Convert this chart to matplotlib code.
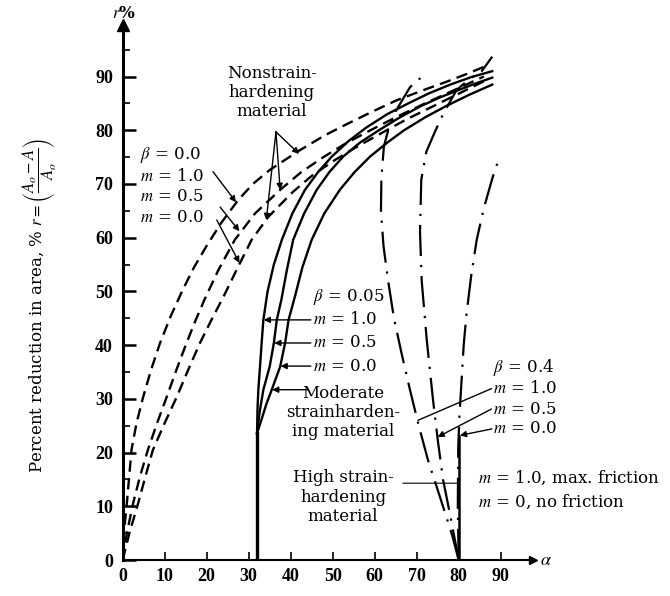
import matplotlib.pyplot as plt

plt.rcParams['font.family'] = 'DejaVu Serif'
plt.rcParams['mathtext.fontset'] = 'stix'

# beta = 0.0, nonstrainhardening material (dashed)
b00_m10_alpha = [0, 0.3, 1.0, 2.1, 3.3, 4.9, 6.8, 8.9, 11.5, 14.3, 17, 20, 23.5, 27.5, 31, 35, 42, 48,
                 53, 59, 65, 71, 77, 82, 86]
b00_m10_r = [0, 5, 10.6, 20.5, 25.5, 30.4, 35.5, 40.4, 45.5, 50.3, 54.5, 58.5, 62.8, 67, 70, 72.6, 76.2, 79,
             81, 83.3, 85.5, 87.3, 89, 90.5, 91.8]
b00_m05_alpha = [0, 1.0, 2.5, 4.1, 6, 8.2, 10.5, 12.8, 15.2, 17.3, 19.5, 22.8, 26.7, 31.5, 37.5, 42.5, 47.8,
                 53, 59, 65.5, 72, 79, 86]
b00_m05_r = [0, 5, 10.6, 15.5, 20.5, 25.5, 30.4, 35.4, 40.4, 44.5, 48.5, 54, 59.6, 64.5, 68.9, 72.2, 75,
             77.5, 80, 82.6, 85, 87.5, 90]
b00_m00_alpha = [0, 1.6, 3.7, 5.4, 7.2, 10, 12.9, 15.6, 18.4, 21.2, 24, 27.3, 30.7, 34.7, 40.5, 45, 50,
                 55.5, 61, 67.5, 74, 80.5, 87]
b00_m00_r = [0, 5, 10.6, 15.5, 20.5, 25.5, 30.4, 35.4, 40.4, 44.8, 49, 54.3, 59.6, 63.9, 68.5, 71.5, 74.2,
             76.8, 79.2, 82, 84.5, 87, 89.5]

# beta = 0.05, moderate strainhardening (solid)
b005_alpha0 = 32
b005_r0 = 23.6
b005_m10_alpha = [32, 32.1, 32.3, 32.7, 33.1, 33.5, 34.5, 36, 37.9, 40.4, 43.4, 46.5, 49.8, 53.8, 58, 63,
                  68, 73, 78, 83, 88]
b005_m10_r = [23.6, 28, 31.7, 36, 40.5, 44.7, 50, 55, 59.6, 64.5, 68.9, 72.2, 75.1, 78, 80.5, 83,
              85, 86.9, 88.5, 89.9, 91]
b005_m05_alpha = [32, 32.6, 33.5, 35, 36, 36.7, 37.8, 39.1, 40.6, 43.2, 46.2, 49.2, 52.5, 56.5, 61, 66,
                  71, 75.5, 80, 84, 88]
b005_m05_r = [23.6, 27.5, 31.7, 36, 40.4, 44.7, 48.5, 54, 59.6, 64.5, 68.9, 72.2, 75.1, 77.7, 80, 82.4,
              84.5, 86.1, 87.5, 88.7, 89.8]
b005_m00_alpha = [32, 33, 34.2, 35.5, 37.5, 38.7, 39.5, 41, 42.8, 45, 48, 51.7, 55.2, 58.9, 63, 67, 72,
                  77, 82.5, 88]
b005_m00_r = [23.6, 26, 29, 31.7, 36, 40.5, 44.7, 49, 54.5, 59.6, 64.5, 68.9, 72.2, 75.1, 77.7, 80, 82.4,
              84.5, 86.6, 88.5]

# beta = 0.4, high strainhardening (dash-dot)
b04_alpha0 = 80
b04_r0 = 23
b04_m10_alpha = [80, 78.5, 76.8, 74.7, 72.7, 70.5, 68.4, 66.4, 64.6, 63.2, 62.1, 61.5, 61.6, 62.2, 63.5,
                 65.2, 68.4, 71.3]
b04_m10_r = [0, 4.5, 8.7, 13.8, 18.6, 25, 31.7, 38.5, 45, 52, 58.5, 65, 71, 77, 80.8, 83.8, 88, 90]
b04_m05_alpha = [80, 78.2, 76.3, 75, 73.9, 72.4, 71.2, 70.8, 71.1, 72.3, 74.4, 76.3, 79.5, 82.5, 85.5, 88]
b04_m05_r = [0, 7.5, 14.9, 22.5, 29.8, 41, 52, 61, 70.8, 76, 79.8, 83, 87.5, 89.5, 91, 93.7]
b04_m00_alpha = [80, 79.8, 79.9, 80.2, 80.7, 81.2, 81.9, 83, 84.3, 86, 88, 89.5]
b04_m00_r = [0, 10, 21, 27, 33.5, 40, 46, 53, 59.6, 65.5, 71, 74.5]

xticks = list(range(0, 100, 10))
yticks = list(range(0, 100, 10))

fig = plt.figure(figsize=(6.7, 5.96), dpi=100)
ax = fig.add_axes([0.1831, 0.0604, 0.6124, 0.8977])

dash = (0, (4.8, 2.7))
dashdot = (0, (14, 4, 1, 4))

for a, r in [(b00_m10_alpha, b00_m10_r), (b00_m05_alpha, b00_m05_r), (b00_m00_alpha, b00_m00_r)]:
    ax.plot(a, r, color='black', lw=1.7, linestyle=dash)

ax.plot([b005_alpha0, b005_alpha0], [0, b005_r0], color='black', lw=2.4)
for a, r in [(b005_m10_alpha, b005_m10_r), (b005_m05_alpha, b005_m05_r), (b005_m00_alpha, b005_m00_r)]:
    ax.plot(a, r, color='black', lw=1.7)

ax.plot([b04_alpha0, b04_alpha0], [0, b04_r0], color='black', lw=1.8)
for a, r in [(b04_m10_alpha, b04_m10_r), (b04_m05_alpha, b04_m05_r), (b04_m00_alpha, b04_m00_r)]:
    ax.plot(a, r, color='black', lw=1.6, linestyle=dashdot)

ax.set_xlim(0, 97.7)
ax.set_ylim(0, 99.6)
ax.set_xticks(xticks)
ax.set_yticks(yticks)
ax.set_yticks(range(5, 100, 10), minor=True)
ax.tick_params(axis='y', direction='in', length=9, width=1.8, pad=7)
ax.tick_params(axis='y', which='minor', direction='in', length=5, width=1.2)
ax.tick_params(axis='x', direction='in', length=6, width=1.2, pad=6)
for lab in ax.get_xticklabels() + ax.get_yticklabels():
    lab.set_fontfamily('Liberation Serif')
    lab.set_fontweight('bold')
    lab.set_fontsize(13)
for s in ['top', 'right']:
    ax.spines[s].set_visible(False)
ax.spines['left'].set_linewidth(2.2)
ax.spines['bottom'].set_linewidth(1.5)

# axis arrows
ax.plot(0, 1, marker='^', color='black', markersize=8, transform=ax.transAxes, clip_on=False)
ax.plot(1, 0, marker='>', color='black', markersize=6, transform=ax.transAxes, clip_on=False)
ax.annotate('$r$%', xy=(0, 1), xycoords='axes fraction', xytext=(1, 2), textcoords='offset points',
            ha='center', va='bottom', fontsize=12, fontweight='bold')
ax.annotate(r'$\alpha$', xy=(1, 0), xycoords='axes fraction', xytext=(5, 0), textcoords='offset points',
            ha='left', va='center', fontsize=13)

fig.text(0.06, 0.487, r'Percent reduction in area, % $r = \left(\dfrac{A_o - A}{A_o}\right)$',
         rotation=90, ha='center', va='center', fontsize=12)

arrow = dict(arrowstyle='-|>', color='black', lw=1.0, mutation_scale=9, shrinkA=0, shrinkB=0)
line = dict(arrowstyle='-', color='black', lw=1.0, shrinkA=0, shrinkB=0)

# nonstrainhardening labels
ax.text(35.5, 87, 'Nonstrain-\nhardening\nmaterial', ha='center', va='center', fontsize=12,
        linespacing=1.15)
for xy in [(42, 75.6), (37.5, 68.9), (34.2, 63.3)]:
    ax.annotate('', xy=xy, xytext=(36.5, 79.7), arrowprops=arrow)

for y, t in zip([75.4, 71.3, 67.6, 63.7], [r'$\beta$ = 0.0', '$m$ = 1.0', '$m$ = 0.5', '$m$ = 0.0']):
    ax.text(4.1, y, t, ha='left', va='center', fontsize=12)
ax.annotate('', xy=(27, 66.6), xytext=(21.5, 72.3), arrowprops=arrow)
ax.annotate('', xy=(27.8, 61.2), xytext=(23.2, 65.7), arrowprops=arrow)
ax.annotate('', xy=(27.8, 55.3), xytext=(22.4, 63.3), arrowprops=arrow)

# beta = 0.05 labels
for y, t in zip([49, 44.7, 40.4, 36.1], [r'$\beta$ = 0.05', '$m$ = 1.0', '$m$ = 0.5', '$m$ = 0.0']):
    ax.text(45.3, y, t, ha='left', va='center', fontsize=12)
ax.annotate('', xy=(33.6, 44.7), xytext=(44.8, 44.7), arrowprops=arrow)
ax.annotate('', xy=(36.1, 40.4), xytext=(44.8, 40.4), arrowprops=arrow)
ax.annotate('', xy=(37.6, 36.1), xytext=(44.8, 36.1), arrowprops=arrow)
ax.text(52.5, 27.4, 'Moderate\nstrainharden-\ning material', ha='center', va='center', fontsize=12,
        linespacing=1.15)
ax.annotate('', xy=(35.6, 31.7), xytext=(44.3, 31.7), arrowprops=arrow)

ax.text(52.5, 11.7, 'High strain-\nhardening\nmaterial', ha='center', va='center', fontsize=12,
        linespacing=1.2)
ax.annotate('', xy=(80, 14.3), xytext=(66.7, 14.3), arrowprops=dict(line, lw=0.8))

# beta = 0.4 labels
for y, t in zip([35.8, 31.9, 28.1, 24.4], [r'$\beta$ = 0.4', '$m$ = 1.0', '$m$ = 0.5', '$m$ = 0.0']):
    ax.text(88.2, y, t, ha='left', va='center', fontsize=12)
ax.annotate('', xy=(70.3, 26), xytext=(87.8, 31.9), arrowprops=line)
ax.annotate('', xy=(75, 22.9), xytext=(87.8, 28.1), arrowprops=arrow)
ax.annotate('', xy=(80.3, 23.2), xytext=(87.9, 24.4), arrowprops=arrow)

ax.text(84.7, 15.3, '$m$ = 1.0, max. friction', ha='left', va='center', fontsize=12)
ax.text(84.7, 10.8, '$m$ = 0, no friction', ha='left', va='center', fontsize=12)

fig.savefig('out.png', dpi=100)
